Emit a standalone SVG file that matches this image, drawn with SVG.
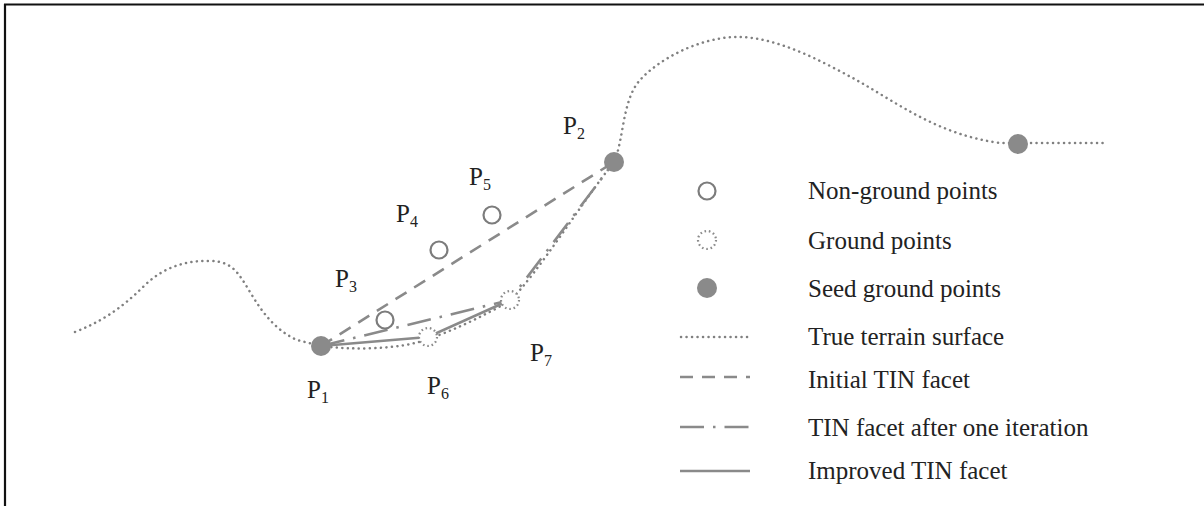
<svg xmlns="http://www.w3.org/2000/svg" width="1204" height="506" viewBox="0 0 1204 506">
<style>
.lbl{font-family:"Liberation Serif","Times New Roman",serif;font-size:25px;fill:#222}
.sub{font-size:16px}
.terrain{fill:none;stroke:#808080;stroke-width:2.5;stroke-linecap:round;stroke-dasharray:0.1 5.4}
.init{fill:none;stroke:#8a8a8a;stroke-width:2.6;stroke-dasharray:13 9}
.iter{fill:none;stroke:#8a8a8a;stroke-width:2.6;stroke-dasharray:24 9 2.5 9}
.impr{fill:none;stroke:#8a8a8a;stroke-width:2.6}
.nong{fill:#fff;stroke:#7c7c7c;stroke-width:2.2}
.grnd{fill:#fff;stroke:#8a8a8a;stroke-width:2.2;stroke-dasharray:1.6 2.8}
.seed{fill:#8a8a8a}
</style>
<rect x="0" y="0" width="1204" height="506" fill="#fff"/>
<g id="frame" stroke="#111" stroke-width="2.2" fill="none">
<line x1="4" y1="4.5" x2="1204" y2="4.5"/>
<line x1="5" y1="4" x2="5" y2="506"/>
</g>
<g id="connectors">
<path class="terrain" d="M75,332 C100,322 120,310 145,285 C165,266 188,260 212,261 C232,262 238,272 250,292 C262,312 275,330 297,340 L321,346 C350,350 400,350 428,339 C455,330 485,315 510,301 C540,270 580,205 614,162 C624,140 622,100 640,80 C660,58 700,38 735,37 C775,36 820,60 860,82 C900,105 940,135 1000,143 L1105,143"/>
<path class="init" d="M321,346 L614,162"/>
<path class="iter" d="M321,346 L510,300 L614,162"/>
<path class="impr" d="M321,346 L428,337 L510,300"/>
</g>
<g id="p3"><circle class="nong" cx="385" cy="320" r="8.5"/><text class="lbl" x="335" y="287">P<tspan class="sub" dy="5">3</tspan></text></g>
<g id="p4"><circle class="nong" cx="439" cy="250" r="8.5"/><text class="lbl" x="396" y="222">P<tspan class="sub" dy="5">4</tspan></text></g>
<g id="p5"><circle class="nong" cx="492" cy="215" r="8.5"/><text class="lbl" x="469" y="185">P<tspan class="sub" dy="5">5</tspan></text></g>
<g id="p6"><circle class="grnd" cx="428" cy="337" r="9"/><text class="lbl" x="427" y="394">P<tspan class="sub" dy="5">6</tspan></text></g>
<g id="p7"><circle class="grnd" cx="510" cy="300" r="9"/><text class="lbl" x="530" y="361">P<tspan class="sub" dy="5">7</tspan></text></g>
<g id="p1"><circle class="seed" cx="321" cy="346" r="10"/><text class="lbl" x="307" y="398">P<tspan class="sub" dy="5">1</tspan></text></g>
<g id="p2"><circle class="seed" cx="614" cy="162" r="10"/><text class="lbl" x="563" y="134">P<tspan class="sub" dy="5">2</tspan></text></g>
<g id="seed3"><circle class="seed" cx="1018" cy="144" r="10"/></g>
<g id="legend">
<g id="leg-nonground"><circle class="nong" cx="707" cy="191" r="8.5"/><text class="lbl" x="808" y="199">Non-ground points</text></g>
<g id="leg-ground"><circle class="grnd" cx="707" cy="240" r="9"/><text class="lbl" x="808" y="249">Ground points</text></g>
<g id="leg-seed"><circle class="seed" cx="707" cy="288" r="10"/><text class="lbl" x="808" y="297">Seed ground points</text></g>
<g id="leg-terrain"><path class="terrain" d="M681,337 L750,337"/><text class="lbl" x="808" y="345">True terrain surface</text></g>
<g id="leg-init"><path class="init" d="M680,377 L750,377"/><text class="lbl" x="808" y="388">Initial TIN facet</text></g>
<g id="leg-iter"><path class="iter" d="M680,427 L750,427"/><text class="lbl" x="808" y="436">TIN facet after one iteration</text></g>
<g id="leg-impr"><path class="impr" d="M680,471 L750,471"/><text class="lbl" x="808" y="479">Improved TIN facet</text></g>
</g>
</svg>
